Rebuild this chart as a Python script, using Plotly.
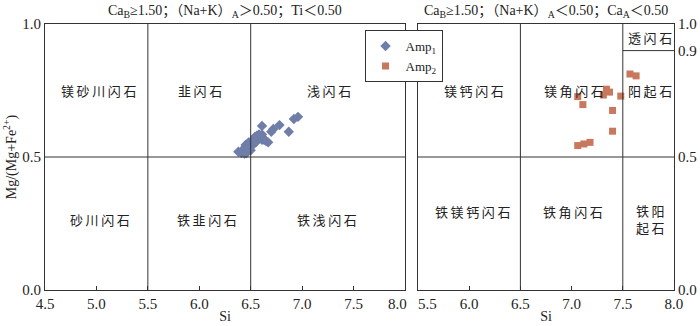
import plotly.graph_objects as go
from plotly.subplots import make_subplots

# Amp1 (left panel, diamonds)
amp1_si = [6.38, 6.41, 6.44, 6.46, 6.43, 6.47, 6.49, 6.45, 6.50, 6.52, 6.48, 6.51, 6.53, 6.55,
           6.54, 6.56, 6.58, 6.57, 6.59, 6.60, 6.62, 6.61, 6.63, 6.65, 6.52, 6.55, 6.58, 6.50,
           6.47, 6.53, 6.61, 6.67, 6.70, 6.72, 6.78, 6.87, 6.92, 6.96, 6.61, 6.44]
amp1_mg = [0.520, 0.515, 0.513, 0.515, 0.530, 0.535, 0.540, 0.545, 0.550, 0.555, 0.555, 0.560,
           0.565, 0.570, 0.575, 0.580, 0.585, 0.575, 0.580, 0.575, 0.570, 0.565, 0.565, 0.560,
           0.545, 0.555, 0.570, 0.525, 0.545, 0.565, 0.585, 0.555, 0.595, 0.605, 0.620, 0.595,
           0.643, 0.651, 0.617, 0.525]

# Amp2 (right panel, squares)
amp2_si = [7.57, 7.63, 7.34, 7.37, 7.31, 7.48, 7.06, 7.11, 7.40, 7.40, 7.06, 7.12, 7.18]
amp2_mg = [0.812, 0.805, 0.755, 0.744, 0.733, 0.729, 0.727, 0.697, 0.675, 0.597, 0.543, 0.549, 0.555]

# field names: (text, si, mg)
left_fields = [("镁砂川闪石", 5.02, 0.745), ("韭闪石", 6.01, 0.745), ("浅闪石", 7.26, 0.745),
               ("砂川闪石", 5.03, 0.263), ("铁韭闪石", 6.075, 0.263), ("铁浅闪石", 7.24, 0.263)]
right_fields = [("透闪石", 7.77, 0.947), ("镁钙闪石", 6.05, 0.745), ("镁角闪石", 7.02, 0.745),
                ("阳起石", 7.77, 0.745), ("铁镁钙闪石", 6.03, 0.29), ("铁角闪石", 7.01, 0.29),
                ("铁阳<br>起石", 7.77, 0.263)]

left_xticks = [4.5, 5.0, 5.5, 6.0, 6.5, 7.0, 7.5, 8.0]
right_xticks = [5.5, 6.0, 6.5, 7.0, 7.5, 8.0]
left_yticks = [0.0, 0.5, 1.0]
right_yticks = [0.0, 0.5, 0.9, 1.0]

left_title = "Ca<sub>B</sub>≥1.50；（Na+K）<sub>A</sub>＞0.50；Ti＜0.50"
right_title = "Ca<sub>B</sub>≥1.50；（Na+K）<sub>A</sub>＜0.50；Ca<sub>A</sub>＜0.50"

FONT = "Liberation Serif, Noto Sans CJK SC, serif"
LINE = "#333333"
NB = "\u00a0"

fig = make_subplots(rows=1, cols=2, horizontal_spacing=0.02)

fig.add_trace(go.Scatter(x=amp1_si, y=amp1_mg, mode="markers", name="Amp<sub>1</sub>",
                         marker=dict(symbol="diamond", size=8, color="#6f7ea8")), row=1, col=1)
fig.add_trace(go.Scatter(x=amp2_si, y=amp2_mg, mode="markers", name="Amp<sub>2</sub>",
                         marker=dict(symbol="square", size=7, color="#c8785c")), row=1, col=2)


def spaced(s):
    # thin spaces between characters, like the loose type of the original
    return "<br>".join("\u2009".join(p) for p in s.split("<br>"))


for txt, x, y in left_fields:
    fig.add_annotation(x=x, y=y, xref="x", yref="y", text=spaced(txt), showarrow=False,
                       font=dict(size=13, color="#222"))
for txt, x, y in right_fields:
    fig.add_annotation(x=x, y=y, xref="x2", yref="y2", text=spaced(txt), showarrow=False,
                       font=dict(size=13, color="#222"))

# field boundaries
left_vlines = [5.5, 6.5]
right_vlines = [6.5, 7.5]
for v in left_vlines:
    fig.add_shape(type="line", x0=v, x1=v, y0=0, y1=1, xref="x", yref="y", line=dict(color=LINE, width=1))
fig.add_shape(type="line", x0=4.5, x1=8.0, y0=0.5, y1=0.5, xref="x", yref="y", line=dict(color=LINE, width=1))
for v in right_vlines:
    fig.add_shape(type="line", x0=v, x1=v, y0=0, y1=1, xref="x2", yref="y2", line=dict(color=LINE, width=1))
fig.add_shape(type="line", x0=5.5, x1=8.0, y0=0.5, y1=0.5, xref="x2", yref="y2", line=dict(color=LINE, width=1))
fig.add_shape(type="line", x0=7.5, x1=8.0, y0=0.9, y1=0.9, xref="x2", yref="y2", line=dict(color=LINE, width=1))

axis_common = dict(showgrid=False, zeroline=False, showline=True, mirror=True, linecolor=LINE,
                   linewidth=1, tickfont=dict(size=15, color="#222"), automargin=False)

fig.update_xaxes(**axis_common, ticks="inside", ticklen=4, tickcolor=LINE,
                 title=dict(text="Si", font=dict(size=14), standoff=0))
# nudge the touching end labels (8.0 | 5.5) apart as in the original
left_xtext = [f"{v:.1f}" for v in left_xticks]
left_xtext[-1] = left_xtext[-1] + NB * 4
right_xtext = [f"{v:.1f}" for v in right_xticks]
right_xtext[0] = NB * 5 + right_xtext[0]
fig.update_xaxes(range=[4.5, 8.0], domain=[0, 0.5723], tickvals=left_xticks, ticktext=left_xtext,
                 row=1, col=1)
fig.update_xaxes(range=[5.5, 8.0], domain=[0.593, 1], tickvals=right_xticks, ticktext=right_xtext,
                 row=1, col=2)

fig.update_yaxes(**axis_common, range=[0, 1], ticks="", tickformat=".1f")
fig.update_yaxes(tickvals=left_yticks, row=1, col=1,
                 title=dict(text="Mg/(Mg+Fe<sup>2+</sup>)", font=dict(size=14), standoff=2))
fig.update_yaxes(tickvals=right_yticks, side="right", row=1, col=2)

fig.add_annotation(x=0.286, y=1.0, xref="paper", yref="paper", yshift=2, yanchor="bottom",
                   xanchor="center", text=left_title, showarrow=False, font=dict(size=14, color="#222"))
fig.add_annotation(x=0.797, y=1.0, xref="paper", yref="paper", yshift=2, yanchor="bottom",
                   xanchor="center", text=right_title, showarrow=False, font=dict(size=14, color="#222"))

fig.update_layout(
    width=700, height=326,
    margin=dict(l=45, r=26, t=24, b=36),
    plot_bgcolor="white", paper_bgcolor="white",
    font=dict(family=FONT, color="#222"),
    showlegend=True,
    legend=dict(x=0.570, y=0.977, xanchor="center", yanchor="top", bgcolor="white",
                bordercolor=LINE, borderwidth=1, font=dict(size=13), itemwidth=30),
)

# drop the browser's default 8px body margin so the figure sits at the page corner
fig.write_html("out.html", config={"displayModeBar": False},
               post_script="document.body.style.margin='0';")
